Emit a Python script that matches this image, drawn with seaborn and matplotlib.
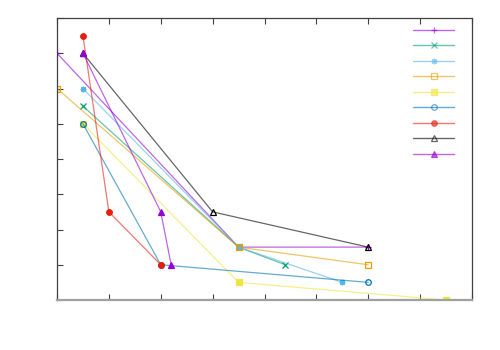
import matplotlib
matplotlib.use("Agg")
import matplotlib.pyplot as plt
import seaborn as sns
import pandas as pd
from matplotlib.lines import Line2D

sns.set_style("white")

s1_x = [0, 3.5, 6];      s1_y = [7, 1.5, 1.5]
s2_x = [0.5, 3.5, 4.4];  s2_y = [5.5, 1.5, 1.0]
s3_x = [0.5, 3.5, 5.5];  s3_y = [6, 1.5, 0.5]
s4_x = [0, 3.5, 6];      s4_y = [6, 1.5, 1.0]
s5_x = [0.5, 3.5, 7.5];  s5_y = [5, 0.5, 0]
s6_x = [0.5, 2, 6];      s6_y = [5, 1, 0.5]
s7_x = [0.5, 1, 2];      s7_y = [7.5, 2.5, 1]
s8_x = [0.5, 3, 6];      s8_y = [7, 2.5, 1.5]
s9_x = [0.5, 2, 2.2];    s9_y = [7, 2.5, 1]

series = [
    (s1_x, s1_y, "#9400d3", "+", dict()),
    (s2_x, s2_y, "#009e73", "x", dict()),
    (s3_x, s3_y, "#56b4e9", (8, 2, 0), dict()),
    (s4_x, s4_y, "#e69f00", "s", dict(mfc="none")),
    (s5_x, s5_y, "#f0e442", "s", dict()),
    (s6_x, s6_y, "#0072b2", "o", dict(mfc="none")),
    (s7_x, s7_y, "#e51e10", "o", dict()),
    (s8_x, s8_y, "#000000", "^", dict(mfc="none")),
    (s9_x, s9_y, "#9400d3", "^", dict()),
]

fig = plt.figure(figsize=(5, 3.5), dpi=100)
ax = fig.add_axes([57/500, 50/350, 415/500, 282/350])

handles = []
for i, (xs, ys, c, m, kw) in enumerate(series):
    df = pd.DataFrame({"x": xs, "y": ys})
    sns.lineplot(data=df, x="x", y="y", ax=ax, color=c, alpha=0.6, lw=0.9,
                 sort=False, estimator=None, legend=False)
    ax.plot(xs, ys, ls="none", marker=m, color=c, ms=4, mew=0.9, **kw)
    handles.append(Line2D([0], [0], color=c, alpha=0.6, lw=1.0, marker=m,
                          ms=4, mew=0.9, markeredgecolor=c, **kw))

ax.set_xlim(0, 8)
ax.set_ylim(0, 8)
ax.set_xticks(range(0, 9))
ax.set_yticks(range(0, 9))
ax.set_xticklabels([])
ax.set_yticklabels([])
ax.set_xlabel("")
ax.set_ylabel("")
ax.tick_params(direction="in", length=4, width=0.8, color="#404040",
               top=True, bottom=True, left=True, right=False,
               labelbottom=False, labelleft=False)
for side in ["left", "top", "right"]:
    ax.spines[side].set_color("#404040")
    ax.spines[side].set_linewidth(0.9)
ax.spines["bottom"].set_color("#a0a0a0")
ax.spines["bottom"].set_linewidth(1.6)

leg = ax.legend(handles, [""] * 9, loc="upper right", frameon=False,
                handlelength=4.2, handletextpad=0, labelspacing=0.57,
                borderaxespad=0, borderpad=0,
                bbox_to_anchor=((454 - 57) / 415, 1 - 7 / 282),
                fontsize=7)
fig.savefig("out.png", dpi=100)
